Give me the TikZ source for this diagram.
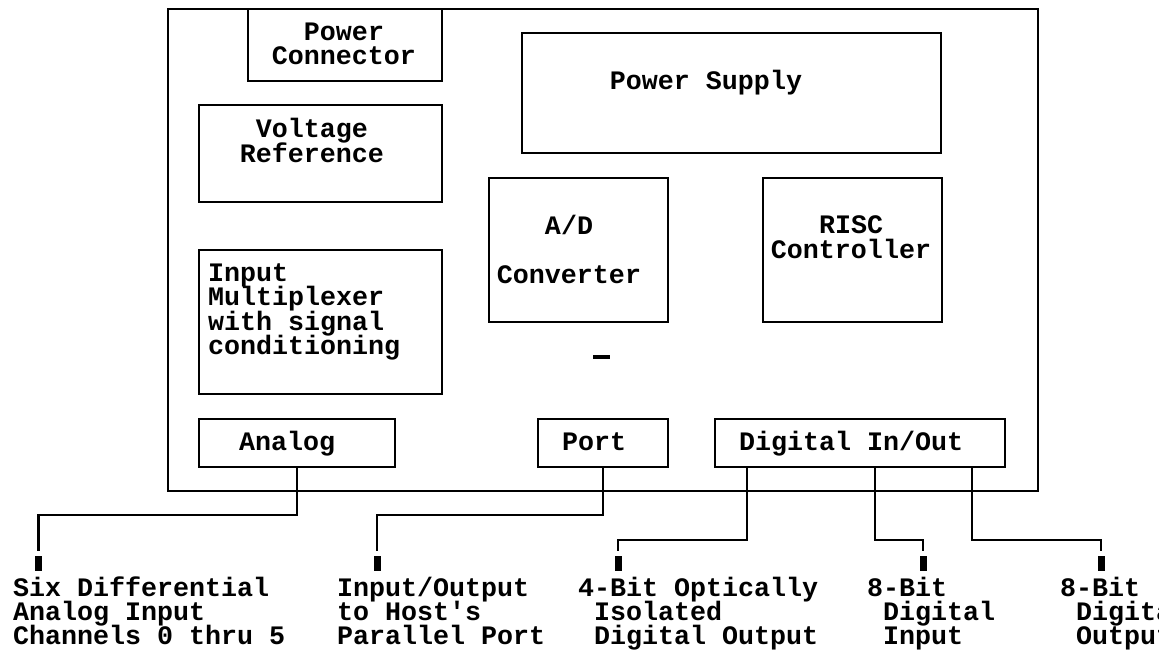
\documentclass[tikz,border=0pt]{standalone}
\usepackage{fontspec}
\newfontfamily\termfont{Liberation Mono}
\usepackage{tikz}
\newcommand{\pad}{\hphantom{0}}
\newcommand{\termtext}{\termfont\bfseries\fontsize{26.67}{24.4}\selectfont
  \lineskiplimit=-100pt\relax}

\begin{document}
\begin{tikzpicture}[x=1pt,y=-1pt,
  blk/.style={draw,line width=2pt,inner sep=0pt,anchor=north west},
  txt/.style={inner sep=0pt,font=\termtext},
  wire/.style={line width=2.6pt},
  term/.style={fill,inner sep=0pt,minimum width=7pt,minimum height=15pt}]
% page (pixel grid, y runs down)
\clip (0,0) rectangle (1159,650);
\fill[white] (0,0) rectangle (1159,650);
% board outline
\node[blk,minimum width=870pt,minimum height=482pt] (board) at (167,8) {};
% blocks on the board
\node[blk,minimum width=194pt,minimum height=72pt]  (pc)   at (247,8)   {};
\node[blk,minimum width=243pt,minimum height=97pt]  (vr)   at (198,104) {};
\node[blk,minimum width=419pt,minimum height=120pt] (psu)  at (521,32)  {};
\node[blk,minimum width=179pt,minimum height=144pt] (adc)  at (488,177) {};
\node[blk,minimum width=179pt,minimum height=144pt] (risc) at (762,177) {};
\node[blk,minimum width=243pt,minimum height=144pt] (mux)  at (198,249) {};
\node[blk,minimum width=196pt,minimum height=48pt]  (ana)  at (198,418) {};
\node[blk,minimum width=130pt,minimum height=48pt]  (port) at (537,418) {};
\node[blk,minimum width=290pt,minimum height=48pt]  (dio)  at (714,418) {};
% block texts (base = baseline of the last line)
\node[txt,anchor=base,align=center] (pc-t)   at (344,65)  {Power\\Connector};
\node[txt,anchor=base,align=center] (vr-t)   at (312,162) {Voltage\\Reference};
\node[txt,anchor=base]              (psu-t)  at (706,90)  {Power Supply};
\node[txt,anchor=base,align=center] (adc-t)  at (569,283) {A/D\\[24.4pt]Converter};
\node[txt,anchor=base,align=center] (risc-t) at (851,258) {RISC\\Controller};
\node[txt,anchor=base west,align=left] (mux-t) at (208,354.7)
  {Input\\Multiplexer\\with signal\\conditioning};
\node[txt,anchor=base west] (ana-t)  at (239,450) {Analog};
\node[txt,anchor=base west] (port-t) at (562,450) {Port};
\node[txt,anchor=base west] (dio-t)  at (739,450) {Digital In/Out};
% stray mark under the converter
\fill (593,355) rectangle (610,359);
% terminals
\foreach \n/\x in {t1/38.5, t2/377, t3/618, t4/923, t5/1101}
  \node[term] (\n) at (\x,563.5) {};
% wiring out of the board
\draw[wire] (ana.south) -- ++(0,47) -| ([yshift=5pt]t1.north);
\draw[wire] (port.south) -- ++(0,47) -| ([yshift=5pt]t2.north);
\draw[wire] ([xshift=33pt]dio.south west) -- ++(0,72) -| ([yshift=5pt]t3.north);
\draw[wire] ([xshift=161pt]dio.south west) -- ++(0,72) -| ([yshift=5pt]t4.north);
\draw[wire] ([xshift=258pt]dio.south west) -- ++(0,72) -| ([yshift=5pt]t5.north);
% terminal labels
\node[txt,anchor=base west,align=left] (l1) at (13,644.8)
  {Six Differential\\Analog Input\\Channels 0 thru 5};
\node[txt,anchor=base west,align=left] (l2) at (337,644.8)
  {Input/Output\\to Host's\\Parallel Port};
\node[txt,anchor=base west,align=left] (l3) at (578,644.8)
  {4-Bit Optically\\\pad Isolated\\\pad Digital Output};
\node[txt,anchor=base west,align=left] (l4) at (867,644.8)
  {8-Bit\\\pad Digital\\\pad Input};
\node[txt,anchor=base west,align=left] (l5) at (1060,644.8)
  {8-Bit\\\pad Digital\\\pad Output};
\end{tikzpicture}
\end{document}
